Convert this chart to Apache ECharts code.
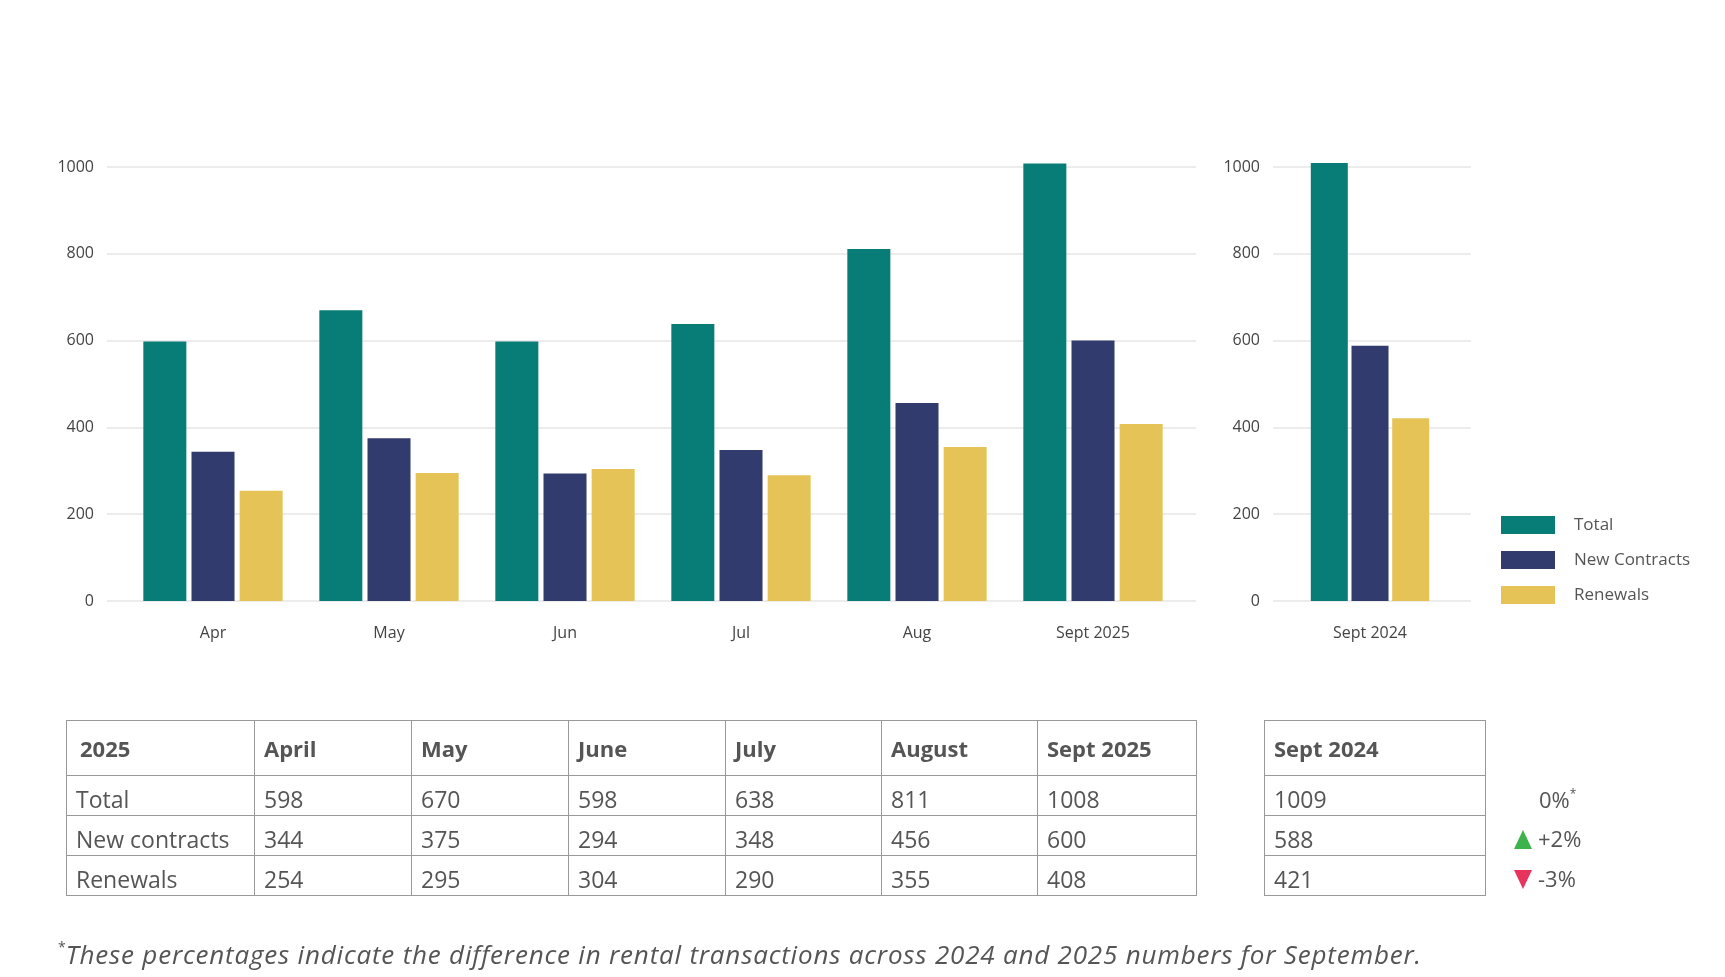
<!DOCTYPE html>
<html>
<head>
<meta charset="utf-8">
<script src="https://cdn.jsdelivr.net/npm/echarts@6/dist/echarts.min.js"></script>
<style>
  html, body { margin: 0; padding: 0; background: #fff; }
  #wrap { position: relative; width: 1725px; height: 977px; overflow: hidden; }
  #chart { position: absolute; left: 0; top: 0; width: 1725px; height: 977px; }
  table.dt { position: absolute; border-collapse: collapse; font-family: "Open Sans", sans-serif; color: #555; table-layout: fixed; }
  table.dt td, table.dt th { border: 1px solid #999; padding: 0 0 0 9px; text-align: left; white-space: nowrap; overflow: hidden; }
  table.dt th { height: 54px; font-size: 22px; font-weight: 700; }
  table.dt td { height: 33px; padding-top: 6px; font-size: 23px; font-weight: 400; box-sizing: content-box; }
  .pct { position: absolute; font-family: "Open Sans", sans-serif; font-size: 22px; color: #555; }
  .tri-up { position: absolute; width: 0; height: 0; border-left: 9px solid transparent; border-right: 9px solid transparent; border-bottom: 19px solid #3cb44b; }
  .tri-dn { position: absolute; width: 0; height: 0; border-left: 9px solid transparent; border-right: 9px solid transparent; border-top: 19px solid #e8335f; }
  #foot { position: absolute; left: 58px; top: 936px; font-family: "Open Sans", sans-serif; font-style: italic; font-size: 26px; letter-spacing: 0.8px; color: #555; white-space: nowrap; }
  #foot sup { font-size: 14px; font-style: normal; vertical-align: 12px; letter-spacing: 0; }
</style>
</head>
<body>
<div id="wrap">
  <div id="chart"></div>
  <table class="dt" id="t1"></table>
  <table class="dt" id="t2"></table>
  <div id="pcts"></div>
  <div id="foot"><sup>*</sup>These percentages indicate the difference in rental transactions across 2024 and 2025 numbers for September.</div>
</div>
<script>
// ---- data ----
const months = ['Apr', 'May', 'Jun', 'Jul', 'Aug', 'Sept 2025'];
const monthsFull = ['April', 'May', 'June', 'July', 'August', 'Sept 2025'];
const compareLabel = ['Sept 2024'];
const seriesNames = ['Total', 'New Contracts', 'Renewals'];
const rowLabels = ['Total', 'New contracts', 'Renewals'];
const total2025 = [598, 670, 598, 638, 811, 1008];
const newContracts2025 = [344, 375, 294, 348, 456, 600];
const renewals2025 = [254, 295, 304, 290, 355, 408];
const sept2024 = [1009, 588, 421]; // Total, New, Renewals
const changeLabels = ['0%', '+2%', '-3%'];
const changeDir = [0, 1, -1];
const yTicks = [0, 200, 400, 600, 800, 1000];

const colors = ['#087c77', '#313b6d', '#e6c357'];
const FONT = '"Open Sans", sans-serif';

const chart = echarts.init(document.getElementById('chart'), null, { renderer: 'canvas' });

const axisLabelY = { color: '#444', fontSize: 16, fontFamily: FONT, margin: 13, formatter: v => String(v) };
const splitLine = { show: true, lineStyle: { color: '#ececec', width: 2 } };
const yBase = { type: 'value', min: yTicks[0], max: yTicks[yTicks.length - 1], interval: yTicks[1] - yTicks[0] };
const hiddenY = gi => Object.assign({}, yBase, { gridIndex: gi, show: false, splitLine: { show: false } });
const shownY = gi => Object.assign({}, yBase, { gridIndex: gi, axisLine: { show: false }, axisTick: { show: false }, axisLabel: axisLabelY, splitLine: splitLine });

const leftSeries = [total2025, newContracts2025, renewals2025].map((d, i) => ({
  name: seriesNames[i], type: 'bar', xAxisIndex: 0, yAxisIndex: 0, data: d,
  barWidth: 43, barGap: '12%', clip: false, itemStyle: { color: colors[i] }
}));
const rightSeries = sept2024.map((v, i) => ({
  name: seriesNames[i], type: 'bar', xAxisIndex: 2, yAxisIndex: 2, data: [v],
  barWidth: 37, barGap: '10%', clip: false, itemStyle: { color: colors[i] }
}));

chart.setOption({
  animation: false,
  color: colors,
  legend: {
    data: seriesNames, orient: 'vertical', left: 1496, top: 511,
    itemWidth: 54, itemHeight: 18, itemGap: 17,
    textStyle: { color: '#555', fontSize: 17, fontFamily: FONT, padding: [0, 0, 0, 14] },
    icon: 'rect'
  },
  grid: [
    { left: 125, width: 1056, top: 167, height: 434 },
    { left: 107, width: 1089, top: 167, height: 434 },
    { left: 1271, width: 198, top: 167, height: 434 },
    { left: 1273, width: 198, top: 167, height: 434 }
  ],
  xAxis: [
    { type: 'category', gridIndex: 0, data: months, axisLine: { show: false }, axisTick: { show: false },
      axisLabel: { color: '#444', fontSize: 16, fontFamily: FONT, margin: 24 } },
    { type: 'value', gridIndex: 1, show: false },
    { type: 'category', gridIndex: 2, data: compareLabel, axisLine: { show: false }, axisTick: { show: false },
      axisLabel: { color: '#444', fontSize: 16, fontFamily: FONT, margin: 24 } },
    { type: 'value', gridIndex: 3, show: false }
  ],
  yAxis: [hiddenY(0), shownY(1), hiddenY(2), shownY(3)],
  series: leftSeries.concat(rightSeries)
});

// ---- tables ----
const colW1 = [188, 157, 157, 157, 156, 156, 159];
function buildTable(el, headers, widths, rows) {
  let html = '<colgroup>' + widths.map(w => '<col style="width:' + w + 'px">').join('') + '</colgroup>';
  html += '<tr>' + headers.map((h, i) => '<th' + (i === 0 && headers.length > 1 ? ' style="padding-left:13px"' : '') + '>' + h + '</th>').join('') + '</tr>';
  rows.forEach(r => { html += '<tr>' + r.map(c => '<td>' + c + '</td>').join('') + '</tr>'; });
  el.innerHTML = html;
}
const t1 = document.getElementById('t1');
t1.style.left = '66px'; t1.style.top = '720px'; t1.style.width = '1130px';
const data2025 = [total2025, newContracts2025, renewals2025];
buildTable(t1, ['2025'].concat(monthsFull), colW1, rowLabels.map((l, i) => [l].concat(data2025[i])));
const t2 = document.getElementById('t2');
t2.style.left = '1264px'; t2.style.top = '720px'; t2.style.width = '221px';
buildTable(t2, compareLabel, [221], sept2024.map(v => [v]));

// ---- percentage changes ----
const pcts = document.getElementById('pcts');
const rowCenters = [800, 839, 879];
changeLabels.forEach((lab, i) => {
  const d = document.createElement('div');
  d.className = 'pct';
  d.style.top = (rowCenters[i] - 16) + 'px';
  if (changeDir[i] === 0) {
    d.style.left = '1539px';
    d.innerHTML = lab + '<sup style="font-size:12px;vertical-align:10px">*</sup>';
  } else {
    d.style.left = '1538px';
    d.textContent = lab;
    const t = document.createElement('div');
    t.className = changeDir[i] > 0 ? 'tri-up' : 'tri-dn';
    t.style.left = '1514px';
    t.style.top = (rowCenters[i] - 9) + 'px';
    pcts.appendChild(t);
  }
  pcts.appendChild(d);
});
</script>
</body>
</html>
